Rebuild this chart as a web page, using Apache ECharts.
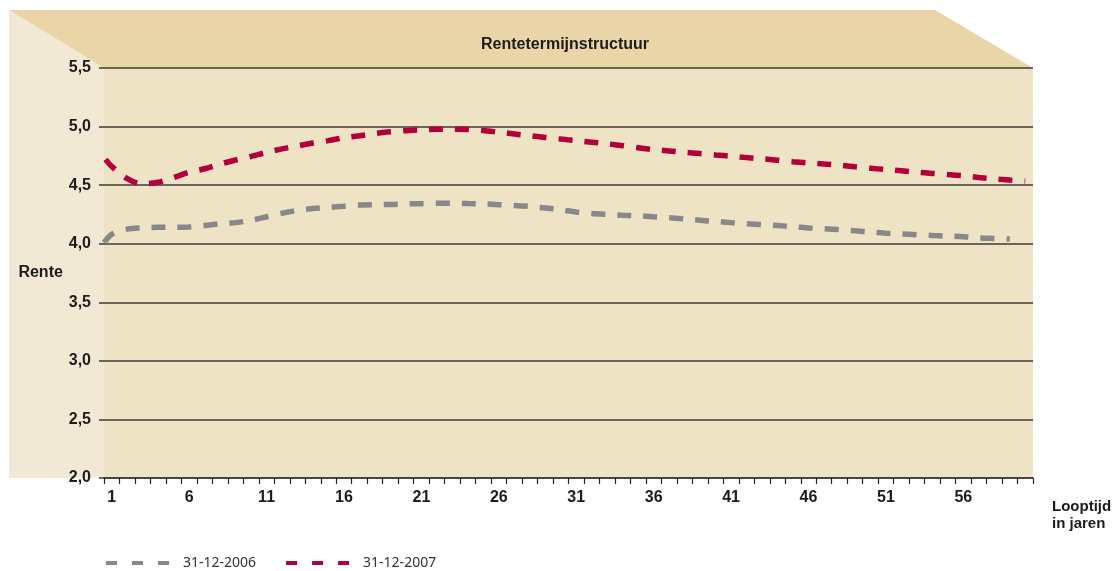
<!DOCTYPE html>
<html><head><meta charset="utf-8">
<script src="https://cdn.jsdelivr.net/npm/echarts@6/dist/echarts.min.js"></script>
<style>html,body{margin:0;padding:0;background:#fff}#c{width:1116px;height:571px}</style>
</head><body><div id="c"></div>
<script>
// ---- data ----
const maturityLabels = ['1','2','3','4','5','6','7','8','9','10','11','12','13','14','15','16','17','18','19','20',
  '21','22','23','24','25','26','27','28','29','30','31','32','33','34','35','36','37','38','39','40',
  '41','42','43','44','45','46','47','48','49','50','51','52','53','54','55','56','57','58','59','60'];
const maturities2006 = [0.5,1,2,3,4,5,6,7,8,9,10,11,12,13,14,15,16,17,18,19,20,21,22,23,24,25,26,27,28,29,30,
  31,32,33,34,35,36,37,38,39,40,41,42,43,44,45,46,47,48,49,50,51,52,53,54,55,56,57,58,59];
const rates2006 = [4.01,4.08,4.125,4.135,4.14,4.14,4.143,4.155,4.17,4.18,4.20,4.23,4.26,4.285,4.30,4.31,4.32,4.33,4.333,4.335,
  4.34,4.342,4.345,4.345,4.343,4.34,4.333,4.327,4.318,4.305,4.29,4.27,4.258,4.25,4.243,4.238,4.23,4.222,4.213,4.20,
  4.19,4.18,4.17,4.163,4.155,4.145,4.135,4.128,4.12,4.11,4.10,4.09,4.083,4.077,4.07,4.065,4.06,4.05,4.045,4.04];
const maturities2007 = [0.6,1,2,3,4,5,6,7,8,9,10,11,12,13,14,15,16,17,18,19,20,21,22,23,24,25,26,27,28,29,30,
  31,32,33,34,35,36,37,38,39,40,41,42,43,44,45,46,47,48,49,50,51,52,53,54,55,56,57,58,59,60];
const rates2007 = [4.72,4.66,4.555,4.51,4.525,4.565,4.61,4.64,4.68,4.715,4.745,4.78,4.81,4.835,4.86,4.88,4.905,4.922,4.94,4.955,
  4.965,4.972,4.977,4.978,4.975,4.967,4.952,4.937,4.922,4.907,4.893,4.88,4.867,4.853,4.837,4.82,4.803,4.792,4.78,4.77,
  4.758,4.747,4.735,4.725,4.713,4.70,4.69,4.68,4.67,4.657,4.645,4.633,4.622,4.61,4.60,4.59,4.58,4.565,4.553,4.543,4.535];
const seriesNames = ['31-12-2006','31-12-2007'];
const yMin = 2.0, yMax = 5.5, yStep = 0.5;

// ---- layout / style ----
const W = 1116;
const G = {left:104, top:68, right:83, bottom:93};
const gRight = W - G.right;
const gBottom = 571 - G.bottom;
const FONT = '"Liberation Sans", Arial, sans-serif';
const INK = '#1c1c1c';
const RULE = '#3e3b35';
const dashIcon = 'path://M0,0h11v4h-11z M26,0h11v4h-11z M52,0h11v4h-11z';

const chart = echarts.init(document.getElementById('c'), null, {renderer:'canvas'});
chart.setOption({
  animation:false,
  backgroundColor:'#ffffff',
  graphic:{elements:[
    {type:'polygon', z:-10, silent:true,
     shape:{points:[[G.left-95,G.top-58],[G.left,G.top],[G.left,gBottom],[G.left-95,gBottom]]},
     style:{fill:'#F2E9D4'}},
    {type:'polygon', z:-10, silent:true,
     shape:{points:[[G.left-95,G.top-58],[gRight-98,G.top-58],[gRight,G.top],[G.left,G.top]]},
     style:{fill:'#EAD5A9'}}
  ]},
  title:{text:'Rentetermijnstructuur', left:476, top:32,
    textStyle:{fontFamily:FONT, fontSize:16, fontWeight:'bold', color:INK}},
  legend:{left:101, top:551, itemWidth:63, itemHeight:4, itemGap:30, icon:dashIcon,
    itemStyle:{borderWidth:0},
    textStyle:{fontFamily:'"Noto Sans", sans-serif', fontSize:14, color:'#333', padding:[0,0,0,9]},
    data:seriesNames},
  grid:{left:G.left, top:G.top, right:G.right, bottom:G.bottom, show:true,
    backgroundColor:'#EFE3C5', borderWidth:0, containLabel:false},
  xAxis:[{
    type:'category', data:maturityLabels, boundaryGap:true,
    name:'Looptijd\nin jaren', nameLocation:'end', nameGap:19,
    nameTextStyle:{fontFamily:FONT, fontSize:15, fontWeight:'bold', color:INK, align:'left',
      verticalAlign:'top', lineHeight:17, padding:[20,0,0,0]},
    axisLine:{show:true, lineStyle:{color:RULE, width:1.5}},
    axisTick:{show:true, interval:0, alignWithLabel:false, inside:false, length:6, lineStyle:{color:'#222', width:1.2}},
    axisLabel:{interval:4, margin:12, fontFamily:FONT, fontSize:16, fontWeight:'bold', color:INK},
    splitLine:{show:false}
  },{
    type:'value', min:0.5, max:60.5, show:false
  }],
  yAxis:{
    type:'value', min:yMin, max:yMax, interval:yStep,
    name:'Rente', nameLocation:'middle', nameRotate:0, nameGap:38,
    nameTextStyle:{fontFamily:FONT, fontSize:16, fontWeight:'bold', color:INK},
    axisLine:{show:false},
    axisTick:{show:true, length:5, lineStyle:{color:RULE, width:1.5}},
    axisLabel:{margin:13, fontFamily:FONT, fontSize:16, fontWeight:'bold', color:INK,
      formatter:v=>v.toFixed(1).replace('.',',')},
    splitLine:{lineStyle:{color:RULE, width:1.5}}
  },
  series:[
    {name:seriesNames[0], type:'line', xAxisIndex:1, smooth:0.3, symbol:'none',
     data:maturities2006.map((m,i)=>[m, rates2006[i]]),
     color:'#88888A',
     lineStyle:{color:'#88888A', width:5.5, type:[14,12], cap:'butt'}},
    {name:seriesNames[1], type:'line', xAxisIndex:1, smooth:0.3, symbol:'none',
     data:maturities2007.map((m,i)=>[m, rates2007[i]]),
     color:'#B3003A',
     lineStyle:{color:'#B3003A', width:5.5, type:[14,12], cap:'butt'}}
  ]
});
</script></body></html>
